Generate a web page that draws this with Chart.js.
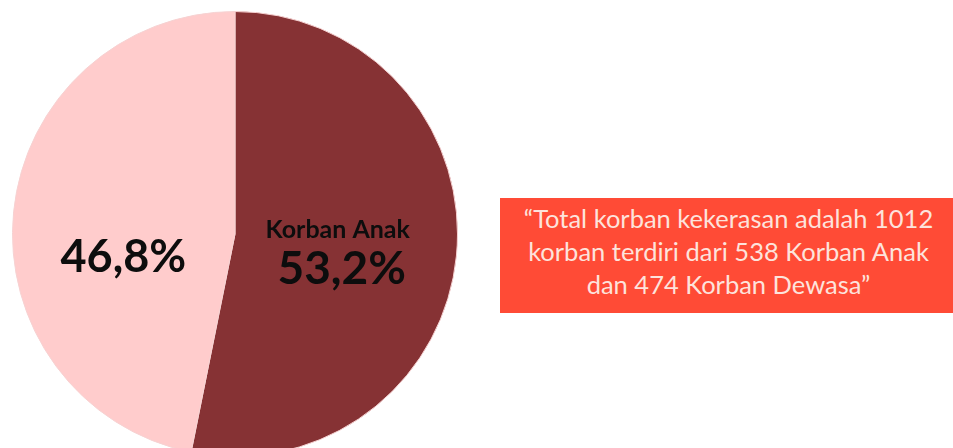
<!DOCTYPE html>
<html>
<head>
<meta charset="utf-8">
<script src="https://cdn.jsdelivr.net/npm/chart.js@4.4.0/dist/chart.umd.min.js"></script>
<style>
  html, body { margin: 0; padding: 0; background: #fff; width: 953px; height: 448px; overflow: hidden; }
  #wrap { position: absolute; left: 12px; top: 11px; width: 446px; height: 446px; }
  #note {
    position: absolute; left: 500px; top: 198px; width: 453px; height: 115px;
    background: #ff4b36; color: #fde3dc;
    font-family: Lato, "Open Sans", sans-serif; font-size: 25.5px; line-height: 33px;
    text-align: center; box-sizing: border-box; padding-top: 4px; padding-left: 4px;
  }
</style>
</head>
<body>
<div id="wrap"><canvas id="myChart" width="446" height="446"></canvas></div>
<div id="note">“Total korban kekerasan adalah 1012<br>korban terdiri dari 538 Korban Anak<br>dan 474 Korban Dewasa”</div>
<script>
const labels = ['Korban Anak', 'Korban Dewasa'];
const values = [538, 474];
const percentLabels = ['53,2%', '46,8%'];
const showName = [true, false];

const colors = ['#863234', '#ffcccc'];

// draws the labels inside the slices
const sliceLabels = {
  id: 'sliceLabels',
  afterDatasetsDraw(chart) {
    const ctx = chart.ctx;
    const meta = chart.getDatasetMeta(0);
    const shifts = [[0, 0], [0, 35]];
    ctx.save();
    ctx.fillStyle = '#0d0d0d';
    ctx.textAlign = 'center';
    ctx.textBaseline = 'middle';
    meta.data.forEach((arc, i) => {
      const p = arc.tooltipPosition();
      const x = p.x + shifts[i][0];
      const y = p.y + shifts[i][1];
      if (showName[i]) {
        ctx.font = 'bold 25px Lato, "Open Sans", sans-serif';
        ctx.fillText(labels[i], x - 8, y - 15);
        ctx.font = 'bold 46px Lato, "Open Sans", sans-serif';
        ctx.fillText(percentLabels[i], x - 4, y + 24);
      } else {
        ctx.font = 'bold 45px Lato, "Open Sans", sans-serif';
        ctx.fillText(percentLabels[i], x - 1, y);
      }
    });
    ctx.restore();
  }
};

const myChart = new Chart(document.getElementById('myChart'), {
  type: 'pie',
  data: {
    labels: labels,
    datasets: [{
      data: values,
      backgroundColor: colors,
      borderColor: '#f6d2d2',
      borderWidth: 1,
      hoverOffset: 0
    }]
  },
  options: {
    responsive: false,
    animation: false,
    layout: { padding: 0 },
    plugins: {
      legend: { display: false },
      tooltip: { enabled: false }
    }
  },
  plugins: [sliceLabels]
});
</script>
</body>
</html>
